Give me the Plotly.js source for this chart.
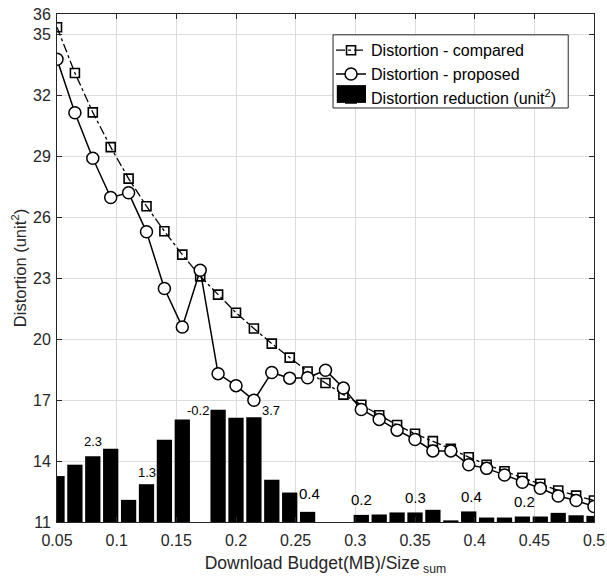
<!DOCTYPE html>
<html><head><meta charset="utf-8">
<script src="https://cdn.plot.ly/plotly-3.0.1.min.js"></script>
<style>html,body{margin:0;padding:0;background:#fff}</style>
</head><body>
<div id="chart" style="width:607px;height:580px"></div>
<script>
const budget = [0.05,0.065,0.08,0.095,0.11,0.125,0.14,0.155,0.17,0.185,0.2,0.215,0.23,0.245,0.26,0.275,0.29,0.305,0.32,0.335,0.35,0.365,0.38,0.395,0.41,0.425,0.44,0.455,0.47,0.485,0.5];
const compared = [35.35,33.1,31.16,29.45,27.9,26.54,25.31,24.16,23.09,22.19,21.3,20.52,19.78,19.09,18.41,17.84,17.27,16.77,16.25,15.77,15.34,14.98,14.6,14.19,13.82,13.5,13.18,12.88,12.55,12.3,12.06];
const proposed = [33.77,31.14,28.9,26.97,27.2,25.28,22.49,20.6,23.39,18.3,17.71,16.99,18.36,18.08,18.1,18.47,17.59,16.54,16.05,15.52,15.06,14.5,14.5,13.82,13.64,13.31,12.96,12.66,12.28,12.06,11.76];
const reduction = [2.26,2.82,3.24,3.6,1.09,1.86,4.05,5.05,-0.2,5.53,5.13,5.15,2.08,1.45,0.5,0,0,0.35,0.37,0.47,0.47,0.6,0.08,0.52,0.22,0.22,0.27,0.27,0.45,0.33,0.3];
const labelText = ["2.3","1.3","-0.2","3.7","0.4","0.2","0.3","0.4","0.2"];
const labelX = [0.08,0.125,0.168,0.229,0.262,0.305,0.35,0.397,0.4415];
const labelY = [14.95,13.45,16.5,16.5,12.4,12.1,12.2,12.25,12.0];
const labelSize = [13,13,13,13,15,15,15,15,15];

const font = 'Arial, "Liberation Sans", sans-serif';
const traces = [
  {type:'bar', x:budget, y:reduction, base:11, name:'Distortion reduction (unit<sup>2</sup>)',
   marker:{color:'#000'}, width:0.0128, legendrank:3},
  {type:'scatter', mode:'lines+markers', x:budget, y:compared, name:'Distortion - compared',
   line:{color:'#000', width:1.3, dash:'dashdot'}, legendrank:1,
   marker:{symbol:'square-open', size:9, color:'#000', line:{width:1.6}}},
  {type:'scatter', mode:'lines+markers', x:budget, y:proposed, name:'Distortion - proposed',
   line:{color:'#000', width:1.5}, legendrank:2,
   marker:{symbol:'circle', size:12, color:'#fff', line:{color:'#000', width:1.5}}}
];
const annotations = labelText.map((t,i)=>({x:labelX[i], y:labelY[i], text:t, showarrow:false,
  font:{family:font, size:labelSize[i], color:'#000'}}));
const shapes = [
  // legend frame
  {type:'rect', xref:'paper', yref:'paper', x0:0.514, x1:0.952, y0:0.815, y1:0.959, layer:'above',
   fillcolor:'#fff', line:{color:'#262626', width:1}},
  // larger legend key for the bars
  {type:'rect', xref:'paper', yref:'paper', x0:0.521, x1:0.5754, y0:0.825, y1:0.860, layer:'above',
   fillcolor:'#000', line:{width:0}}
];
const layout = {
  width:607, height:580,
  margin:{l:57, r:13, t:14, b:58},
  paper_bgcolor:'#fff', plot_bgcolor:'#fff',
  font:{family:font, size:16, color:'#262626'},
  showlegend:true,
  legend:{x:0.5103, y:0.962, xanchor:'left', yanchor:'top', bgcolor:'rgba(0,0,0,0)', borderwidth:0,
    font:{family:font, size:16, color:'#000'}, traceorder:'normal', tracegroupgap:0},
  xaxis:{range:[0.05,0.5], tickvals:[0.05,0.1,0.15,0.2,0.25,0.3,0.35,0.4,0.45,0.5],
    ticktext:['0.05','0.1','0.15','0.2','0.25','0.3','0.35','0.4','0.45','0.5'],
    showgrid:true, gridcolor:'#dcdcdc', gridwidth:1, zeroline:false,
    showline:true, linecolor:'#262626', linewidth:1, mirror:'ticks', ticks:'inside', ticklen:5, tickcolor:'#262626',
    tickfont:{family:font, size:16, color:'#262626'}, ticklabelstandoff:4,
    title:{text:'Download Budget(MB)/Size<sub> sum</sub>', font:{family:font, size:17.5, color:'#262626'}, standoff:8}},
  yaxis:{range:[11,36], tickvals:[11,14,17,20,23,26,29,32,35,36],
    showgrid:true, gridcolor:'#dcdcdc', gridwidth:1, zeroline:false,
    showline:true, linecolor:'#262626', linewidth:1, mirror:'ticks', ticks:'inside', ticklen:5, tickcolor:'#262626',
    tickfont:{family:font, size:16, color:'#262626'}, ticklabelstandoff:2,
    title:{text:'Distortion (unit<sup>2</sup>)', font:{family:font, size:16.5, color:'#262626'}, standoff:2}},
  annotations:annotations,
  shapes:shapes
};
Plotly.newPlot('chart', traces, layout, {displayModeBar:false, staticPlot:true});
</script>
</body></html>
